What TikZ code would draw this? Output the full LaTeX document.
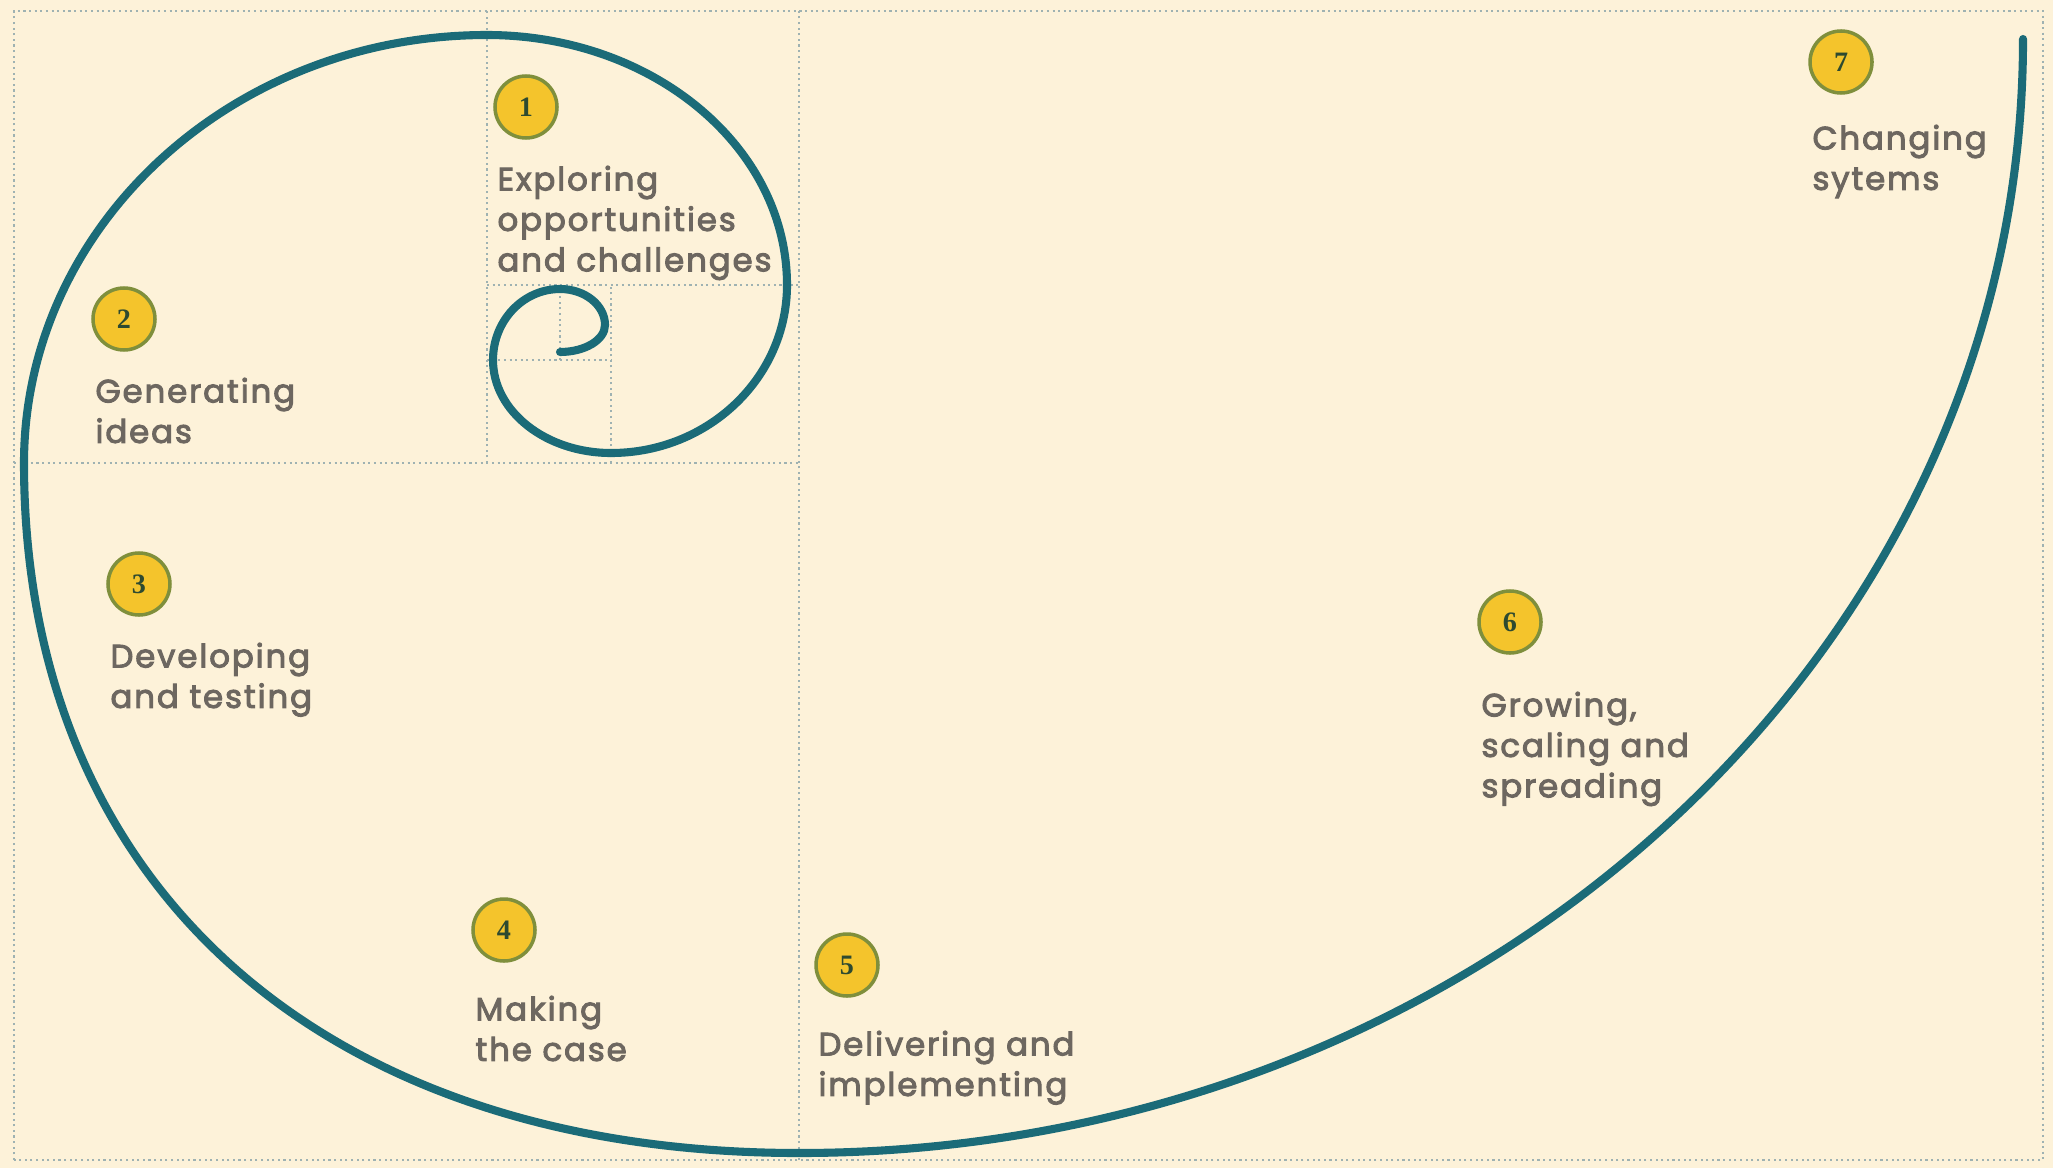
\documentclass[tikz,border=0pt]{standalone}
\usepackage{fontspec}
\setmainfont{Poppins}[FakeBold=3, LetterSpace=6]
\newfontfamily\digitfont{Liberation Serif}
\usetikzlibrary{positioning}

\definecolor{cream}{HTML}{FDF2D9}
\definecolor{spiralteal}{HTML}{1B6B78}
\definecolor{gridgrey}{HTML}{9FB2B2}
\definecolor{numyellow}{HTML}{F4C42C}
\definecolor{numrim}{HTML}{7F8F3C}
\definecolor{numgreen}{HTML}{2E4A30}
\definecolor{txtgrey}{HTML}{6D6760}

\tikzset{
  gridline/.style={densely dotted, gridgrey, line width=0.6pt},
  spiral/.style={spiralteal, line width=2.3pt, line cap=round},
  numcirc/.style={circle, draw=numrim, fill=numyellow, line width=1pt,
    minimum size=0.62cm, inner sep=0pt, text=numgreen,
    font=\digitfont\bfseries\fontsize{8}{8}\selectfont},
  stagetxt/.style={align=left, inner sep=0pt, text=txtgrey,
    font=\fontsize{9.2}{11.5}\selectfont},
}

\begin{document}
\begin{tikzpicture}
    \fill[cream] (0,0) rectangle (20.53,11.68);
    \useasboundingbox (0,0) rectangle (20.53,11.68);

    % golden rectangles
    \draw[gridline] (0.14,0.08) rectangle (20.43,11.57);
    \draw[gridline] (7.99,0.08)--(7.99,11.57);
    \draw[gridline] (0.14,7.05)--(7.99,7.05);
    \draw[gridline] (4.87,7.05)--(4.87,11.57);
    \draw[gridline] (4.87,8.83)--(7.99,8.83);
    \draw[gridline] (6.11,7.05)--(6.11,8.83);
    \draw[gridline] (4.87,8.08)--(6.11,8.08);
    \draw[gridline] (5.60,8.08)--(5.60,8.83);

    % spiral, from the centre outwards
    \draw[spiral] (5.60,8.16)
        arc[start angle=270, end angle=360, x radius=0.45, y radius=0.27]
        arc[start angle=0, end angle=90, x radius=0.45, y radius=0.36]
        arc[start angle=90, end angle=180, x radius=0.67, y radius=0.71]
        arc[start angle=180, end angle=270, x radius=1.18, y radius=0.93]
        arc[start angle=270, end angle=360, x radius=1.76, y radius=1.68]
        arc[start angle=0, end angle=90, x radius=3.00, y radius=2.50]
        arc[start angle=90, end angle=180, x radius=4.63, y radius=4.28]
        .. controls (0.24,2.80) and (3.25,0.15) .. (7.99,0.15)
        arc[start angle=270, end angle=360, x radius=12.24, y radius=11.14];

    % stages
    \node[numcirc] (n1) at (5.26,10.61) {1};
    \node[stagetxt, below right=0.35 and -0.06 of n1.south west] (t1)
        {Exploring\\opportunities\\and challenges};
    \node[numcirc] (n2) at (1.24,8.49) {2};
    \node[stagetxt, below right=0.35 and -0.06 of n2.south west] (t2)
        {Generating\\ideas};
    \node[numcirc] (n3) at (1.39,5.84) {3};
    \node[stagetxt, below right=0.35 and -0.06 of n3.south west] (t3)
        {Developing\\and testing};
    \node[numcirc] (n4) at (5.04,2.38) {4};
    \node[stagetxt, below right=0.42 and -0.06 of n4.south west] (t4)
        {Making\\the case};
    \node[numcirc] (n5) at (8.47,2.03) {5};
    \node[stagetxt, below right=0.42 and -0.06 of n5.south west] (t5)
        {Delivering and\\implementing};
    \node[numcirc] (n6) at (15.10,5.46) {6};
    \node[stagetxt, below right=0.46 and -0.06 of n6.south west] (t6)
        {Growing,\\scaling and\\spreading};
    \node[numcirc] (n7) at (18.41,11.06) {7};
    \node[stagetxt, below right=0.39 and -0.06 of n7.south west] (t7)
        {Changing\\sytems};

\end{tikzpicture}
\end{document}
